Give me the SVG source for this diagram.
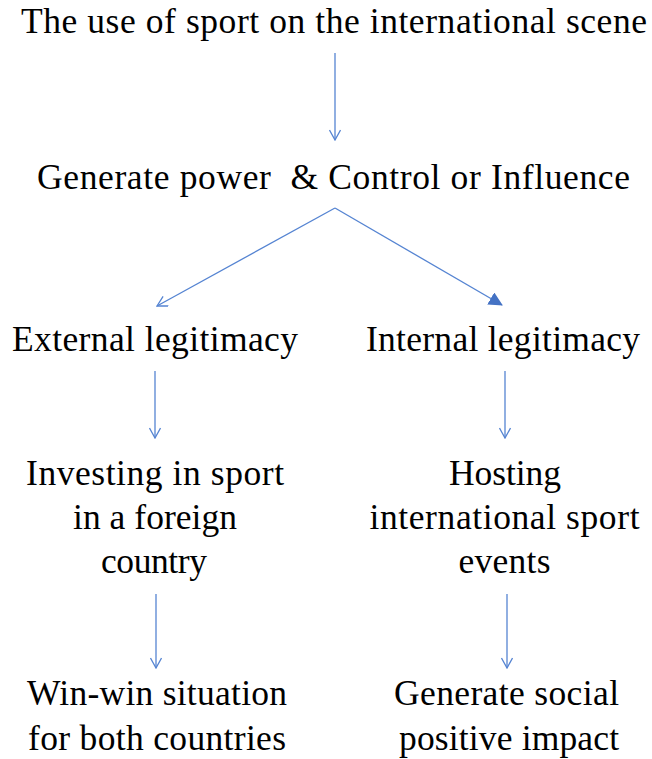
<svg xmlns="http://www.w3.org/2000/svg" width="652" height="759" viewBox="0 0 652 759">
<style>
text{font-family:"Liberation Serif","Times New Roman",serif;font-size:35.5px;fill:#000;text-anchor:middle;white-space:pre}
.c line{stroke:#5584D2;stroke-width:1.3;fill:none}
</style>
<defs>
<marker id="open" viewBox="0 0 12 12" refX="11" refY="6" markerWidth="12" markerHeight="12" markerUnits="userSpaceOnUse" orient="auto"><path d="M1,0.5 L11,6 L1,11.5" fill="none" stroke="#5584D2" stroke-width="1.3"/></marker>
<marker id="fill" viewBox="0 0 14 14" refX="13" refY="7" markerWidth="14" markerHeight="14" markerUnits="userSpaceOnUse" orient="auto"><path d="M0,0 L14,7 L0,14 Z" fill="#4472C4"/></marker>
</defs>
<rect width="652" height="759" fill="#fff"/>
<g id="n1"><text x="334" y="33" textLength="626" lengthAdjust="spacing">The use of sport on the international scene</text></g>
<g id="n2"><text x="333.5" y="189" textLength="593" lengthAdjust="spacing">Generate power  &amp; Control or Influence</text></g>
<g id="n3"><text x="155" y="351" textLength="286" lengthAdjust="spacing">External legitimacy</text></g>
<g id="n4"><text x="503" y="351" textLength="274" lengthAdjust="spacing">Internal legitimacy</text></g>
<g id="n5"><text x="155" y="485" textLength="258" lengthAdjust="spacing">Investing in sport</text><text x="155" y="529" textLength="164" lengthAdjust="spacing">in a foreign</text><text x="154" y="573" textLength="106" lengthAdjust="spacing">country</text></g>
<g id="n6"><text x="505" y="485" textLength="112" lengthAdjust="spacing">Hosting</text><text x="504.5" y="529" textLength="270" lengthAdjust="spacing">international sport</text><text x="504.5" y="573" textLength="92" lengthAdjust="spacing">events</text></g>
<g id="n7"><text x="157" y="705" textLength="260" lengthAdjust="spacing">Win-win situation</text><text x="157" y="750" textLength="258" lengthAdjust="spacing">for both countries</text></g>
<g id="n8"><text x="506.5" y="705" textLength="225" lengthAdjust="spacing">Generate social</text><text x="509" y="750" textLength="220" lengthAdjust="spacing">positive impact</text></g>
<g class="c" id="connectors">
<line x1="335" y1="53" x2="335" y2="140" marker-end="url(#open)"/>
<line x1="335" y1="208" x2="157" y2="306" marker-end="url(#open)"/>
<line x1="335" y1="208" x2="502" y2="305" marker-end="url(#fill)"/>
<line x1="155" y1="371" x2="155" y2="438" marker-end="url(#open)"/>
<line x1="505" y1="371" x2="505" y2="438" marker-end="url(#open)"/>
<line x1="156" y1="594" x2="156" y2="668" marker-end="url(#open)"/>
<line x1="507" y1="594" x2="507" y2="668" marker-end="url(#open)"/>
</g>
</svg>
